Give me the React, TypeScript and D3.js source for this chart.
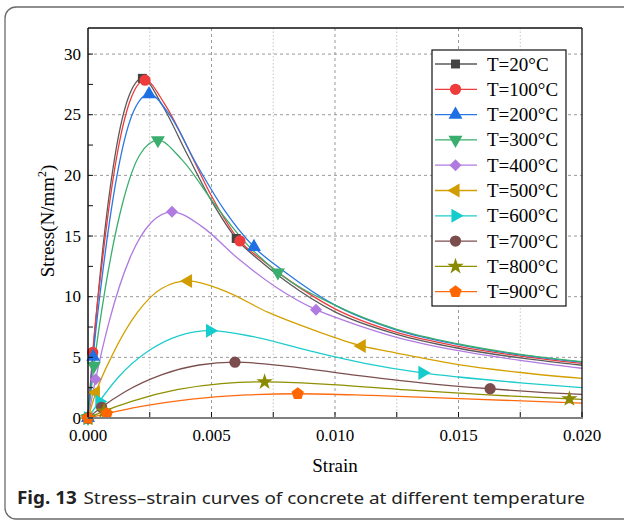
import React from "react";
import * as d3 from "d3";

// legend labels, in drawing order
const labels = ["T=20°C", "T=100°C", "T=200°C", "T=300°C", "T=400°C", "T=500°C", "T=600°C", "T=700°C", "T=800°C", "T=900°C"];

// [strain, stress]
const curve20 = [[0, 0], [0.0002, 5.25], [0.00055, 13.0], [0.0011, 21.7], [0.00165, 26.5], [0.0022, 28.0], [0.003, 25.8], [0.004, 21.8], [0.005, 17.9], [0.006, 14.8], [0.007, 12.9], [0.008, 11.3], [0.01, 8.75], [0.0125, 6.9], [0.015, 5.75], [0.0175, 4.95], [0.02, 4.35]];
const curve100 = [[0, 0], [0.00019, 5.4], [0.00058, 12.95], [0.00116, 21.5], [0.00173, 26.3], [0.00231, 27.85], [0.0031, 25.9], [0.0042, 21.6], [0.005, 18.3], [0.00615, 14.6], [0.007, 13.1], [0.008, 11.55], [0.01, 9.0], [0.0125, 7.05], [0.015, 5.9], [0.0175, 5.1], [0.02, 4.5]];
const curve200 = [[0, 0], [0.00021, 5.05], [0.00062, 12.4], [0.00124, 20.7], [0.00185, 25.3], [0.00247, 26.7], [0.0033, 25.0], [0.0044, 20.9], [0.0055, 17.2], [0.00672, 14.1], [0.008, 12.0], [0.01, 9.3], [0.0125, 7.25], [0.015, 6.05], [0.0175, 5.2], [0.02, 4.6]];
const curve300 = [[0, 0], [0.00024, 4.3], [0.0007, 10.7], [0.0014, 17.7], [0.0021, 21.7], [0.00283, 22.9], [0.0038, 21.3], [0.0051, 17.7], [0.0064, 14.4], [0.00769, 12.0], [0.01, 9.3], [0.0125, 7.3], [0.015, 6.1], [0.0175, 5.25], [0.02, 4.65]];
const curve400 = [[0, 0], [0.00031, 3.2], [0.00085, 7.9], [0.0017, 13.2], [0.00255, 16.1], [0.0034, 17.0], [0.0046, 15.8], [0.0061, 13.1], [0.0076, 10.8], [0.00923, 8.93], [0.0105, 7.95], [0.0125, 6.65], [0.015, 5.55], [0.0175, 4.75], [0.02, 4.1]];
const curve500 = [[0, 0], [0.00032, 2.1], [0.001, 5.25], [0.002, 8.7], [0.003, 10.7], [0.00405, 11.3], [0.0055, 10.5], [0.0073, 8.7], [0.0092, 7.2], [0.01108, 5.94], [0.0125, 5.35], [0.015, 4.4], [0.0175, 3.75], [0.02, 3.26]];
const curve600 = [[0, 0], [0.00046, 1.36], [0.0012, 3.3], [0.0025, 5.6], [0.0037, 6.8], [0.00494, 7.2], [0.0067, 6.7], [0.0089, 5.57], [0.0112, 4.5], [0.01354, 3.72], [0.015, 3.38], [0.0175, 2.9], [0.02, 2.5]];
const curve700 = [[0, 0], [0.00055, 0.88], [0.0015, 2.16], [0.003, 3.57], [0.0045, 4.37], [0.00595, 4.6], [0.008, 4.28], [0.0107, 3.56], [0.0135, 2.9], [0.01628, 2.41], [0.0185, 2.1], [0.02, 1.94]];
const curve800 = [[0, 0], [0.00065, 0.57], [0.0018, 1.4], [0.0036, 2.33], [0.0054, 2.84], [0.00715, 2.98], [0.0097, 2.78], [0.0129, 2.32], [0.0162, 1.9], [0.01949, 1.58], [0.02, 1.54]];
const curve900 = [[0, 0], [0.00076, 0.36], [0.0021, 0.93], [0.0042, 1.55], [0.0064, 1.9], [0.00849, 2.0], [0.0115, 1.86], [0.0153, 1.58], [0.02, 1.22]];

// which points carry a symbol
const markerIdx = [[0, 1, 5, 9], [0, 1, 5, 9], [0, 1, 5, 9], [0, 1, 5, 9], [0, 1, 5, 9], [0, 1, 5, 9], [0, 1, 5, 9], [0, 1, 5, 9], [0, 1, 5, 9], [0, 1, 5]];

const curves = [curve20, curve100, curve200, curve300, curve400, curve500, curve600, curve700, curve800, curve900];
const lineColors = ["#5a5a5a", "#ee3b3b", "#2a78e4", "#3aae6c", "#b07ae0", "#d4a000", "#1ecccc", "#7b4f4f", "#8f8f00", "#ff6a10"];
const markColors = ["#444444", "#ee3b3b", "#1f6fe5", "#3aae6c", "#b07ae0", "#d09c00", "#14cccc", "#7b4d4d", "#8a8a00", "#ff6600"];

const xTicks = [0, 0.005, 0.01, 0.015, 0.02];
const yTicks = [0, 5, 10, 15, 20, 25, 30];

const pentagon = (r) => {
  const pts = d3.range(5).map((i) => {
    const a = -Math.PI / 2 + (i * 2 * Math.PI) / 5;
    return [r * Math.cos(a), r * Math.sin(a)];
  });
  return "M" + pts.map((p) => p.join(",")).join("L") + "Z";
};

const symbolFor = (i) => {
  const s = d3.symbol();
  switch (i) {
    case 0: return { d: s.type(d3.symbolSquare).size(80)(), rot: 0 };
    case 1: return { d: s.type(d3.symbolCircle).size(100)(), rot: 0 };
    case 2: return { d: s.type(d3.symbolTriangle).size(85)(), rot: 0 };
    case 3: return { d: s.type(d3.symbolTriangle).size(85)(), rot: 180 };
    case 4: return { d: s.type(d3.symbolSquare).size(72)(), rot: 45 };
    case 5: return { d: s.type(d3.symbolTriangle).size(85)(), rot: -90 };
    case 6: return { d: s.type(d3.symbolTriangle).size(85)(), rot: 90 };
    case 7: return { d: s.type(d3.symbolCircle).size(100)(), rot: 0 };
    case 8: return { d: s.type(d3.symbolStar).size(85)(), rot: 0 };
    default: return { d: pentagon(6.5), rot: 0 };
  }
};

export default function App() {
  const W = 624, H = 522;
  const x = d3.scaleLinear().domain([0, 0.02]).range([88, 582]);
  const y = d3.scaleLinear().domain([0, 32.15]).range([418, 28]);
  const line = d3.line().x((d) => x(d[0])).y((d) => y(d[1])).curve(d3.curveMonotoneX);

  const xMinor = d3.range(0, 0.0201, 0.0025);
  const yMinor = d3.range(0, 32.1, 2.5);
  const serif = "'Liberation Serif', 'Times New Roman', serif";

  const legX = 432, legY = 50, legRow = 25.3;

  return (
    <svg width={W} height={H} style={{ position: "absolute", left: 0, top: 0, background: "#fff" }} fontFamily={serif}>
      <rect x={5} y={7} width={640} height={512} rx={11} fill="none" stroke="#6a6a6a" strokeWidth={1.3} />

      {/* grid */}
      {xMinor.map((v, i) => (i === 0 || i === xMinor.length - 1) ? null : (
        <line key={"gx" + i} x1={x(v)} x2={x(v)} y1={28} y2={418}
          stroke={i % 2 === 0 ? "#9a9a9a" : "#c4c4c4"} strokeWidth={1}
          strokeDasharray={i % 2 === 0 ? "3,3" : "1.5,2"} />
      ))}
      {yTicks.filter((v) => v > 0).map((v) => (
        <line key={"gy" + v} x1={88} x2={582} y1={y(v)} y2={y(v)} stroke="#9a9a9a" strokeWidth={1} strokeDasharray="3,3" />
      ))}

      {/* curves */}
      {curves.map((c, i) => (
        <path key={"c" + i} d={line(c)} fill="none" stroke={lineColors[i]} strokeWidth={1.3} />
      ))}
      {curves.map((c, i) => {
        const sym = symbolFor(i);
        return markerIdx[i].map((k) => (
          <path key={"m" + i + "-" + k} d={sym.d} fill={markColors[i]}
            transform={`translate(${x(c[k][0])},${y(c[k][1])}) rotate(${sym.rot})`} />
        ));
      })}

      {/* frame & axes */}
      <line x1={88} x2={582} y1={28} y2={28} stroke="#111" strokeWidth={1.3} />
      <line x1={582} x2={582} y1={28} y2={418} stroke="#111" strokeWidth={1.3} />
      <line x1={88} x2={88} y1={28} y2={419} stroke="#111" strokeWidth={1.5} />
      <line x1={87} x2={583} y1={418} y2={418} stroke="#808080" strokeWidth={2.2} />
      {xMinor.map((v, i) => (
        <line key={"tx" + i} x1={x(v)} x2={x(v)} y1={417} y2={412} stroke="#111" strokeWidth={1} />
      ))}
      {yMinor.map((v, i) => (
        <line key={"ty" + i} x1={88} x2={93} y1={y(v)} y2={y(v)} stroke="#111" strokeWidth={1} />
      ))}
      {xTicks.map((v) => (
        <text key={"lx" + v} x={x(v)} y={441} fontSize={17} textAnchor="middle">{v.toFixed(3)}</text>
      ))}
      {yTicks.map((v) => (
        <text key={"ly" + v} x={81} y={y(v) + 5.5} fontSize={17} textAnchor="end">{v}</text>
      ))}
      <text x={335} y={472} fontSize={19} textAnchor="middle">Strain</text>
      <text transform="translate(54,221) rotate(-90)" fontSize={19} textAnchor="middle">
        Stress(N/mm<tspan fontSize={12} dy={-8}>2</tspan><tspan dy={8}>)</tspan>
      </text>

      {/* legend */}
      <rect x={legX} y={legY} width={134} height={256} fill="#fff" stroke="#111" strokeWidth={1.2} />
      {labels.map((lab, i) => {
        const cy = 64 + i * legRow;
        const sym = symbolFor(i);
        return (
          <g key={"lg" + i}>
            <line x1={435} x2={477} y1={cy} y2={cy} stroke={lineColors[i]} strokeWidth={1.3} />
            <path d={sym.d} fill={markColors[i]} transform={`translate(455.5,${cy}) rotate(${sym.rot})`} />
            <text x={487} y={cy + 6.5} fontSize={19}>{lab}</text>
          </g>
        );
      })}

      {/* caption */}
      <text x={17} y={504} fontSize={17} fontFamily="'Noto Sans', 'Open Sans', sans-serif" fill="#222"
        textLength={568} lengthAdjust="spacingAndGlyphs">
        <tspan fontWeight="bold">Fig. 13</tspan><tspan dx={6}>Stress–strain curves of concrete at different temperature</tspan>
      </text>
    </svg>
  );
}
